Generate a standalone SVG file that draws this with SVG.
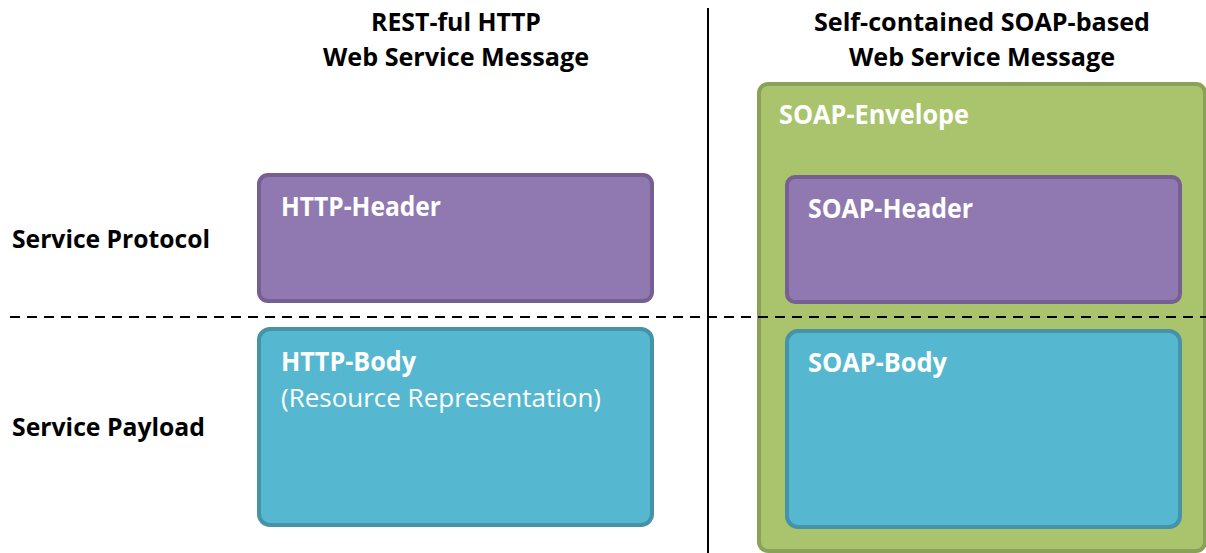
<svg xmlns="http://www.w3.org/2000/svg" width="1206" height="553" viewBox="0 0 1206 553">
  <style>
    .title { font-family: "Open Sans", "Liberation Sans", sans-serif; font-weight: bold; font-size: 25px; fill: #000; }
    .label { font-family: "Open Sans", "Liberation Sans", sans-serif; font-weight: bold; font-size: 26px; fill: #fff; }
    .sub { font-family: "Open Sans", "Liberation Sans", sans-serif; font-size: 25px; fill: #fff; }
    .header { fill: #9079b0; stroke: #765f92; stroke-width: 4; }
    .body { fill: #56b8d0; stroke: #4692a7; stroke-width: 4; }
    .envelope { fill: #a9c46c; stroke: #8aa257; stroke-width: 4; }
    .divider { stroke: #000; stroke-width: 2; fill: none; }
  </style>

  <!-- column headings -->
  <g id="col-rest">
    <text class="title" x="456" y="31" text-anchor="middle" textLength="170" lengthAdjust="spacingAndGlyphs">REST-ful HTTP</text>
    <text class="title" x="456" y="66" text-anchor="middle" textLength="266" lengthAdjust="spacingAndGlyphs">Web Service Message</text>
  </g>
  <g id="col-soap">
    <text class="title" x="982" y="31" text-anchor="middle" textLength="336" lengthAdjust="spacingAndGlyphs">Self-contained SOAP-based</text>
    <text class="title" x="982" y="66" text-anchor="middle" textLength="266" lengthAdjust="spacingAndGlyphs">Web Service Message</text>
  </g>

  <!-- row headings -->
  <g id="row-protocol">
    <text class="title" x="12" y="248" textLength="198" lengthAdjust="spacingAndGlyphs">Service Protocol</text>
  </g>
  <g id="row-payload">
    <text class="title" x="12" y="436" textLength="193" lengthAdjust="spacingAndGlyphs">Service Payload</text>
  </g>

  <!-- REST-ful message parts -->
  <g id="http-header">
    <rect class="header" x="259" y="175" width="393" height="126" rx="9"/>
    <text class="label" x="281" y="216" textLength="160" lengthAdjust="spacingAndGlyphs">HTTP-Header</text>
  </g>
  <g id="http-body">
    <rect class="body" x="259" y="329" width="393" height="196" rx="11"/>
    <text class="label" x="281" y="371" textLength="135" lengthAdjust="spacingAndGlyphs">HTTP-Body</text>
    <text class="sub" x="281" y="407" textLength="320" lengthAdjust="spacingAndGlyphs">(Resource Representation)</text>
  </g>

  <!-- SOAP message parts -->
  <g id="soap-envelope">
    <rect class="envelope" x="759" y="84" width="446" height="467" rx="9"/>
    <text class="label" x="779" y="124" textLength="190" lengthAdjust="spacingAndGlyphs">SOAP-Envelope</text>
  </g>
  <g id="soap-header">
    <rect class="header" x="787" y="177" width="393" height="125" rx="8"/>
    <text class="label" x="808" y="218" textLength="165" lengthAdjust="spacingAndGlyphs">SOAP-Header</text>
  </g>
  <g id="soap-body">
    <rect class="body" x="787" y="331" width="393" height="196" rx="11"/>
    <text class="label" x="808" y="372" textLength="139" lengthAdjust="spacingAndGlyphs">SOAP-Body</text>
  </g>

  <!-- dividing lines -->
  <g id="connectors">
    <line class="divider" x1="708" y1="8" x2="708" y2="553"/>
    <line class="divider" x1="10" y1="317" x2="1206" y2="317" stroke-dasharray="10 7"/>
  </g>
</svg>
